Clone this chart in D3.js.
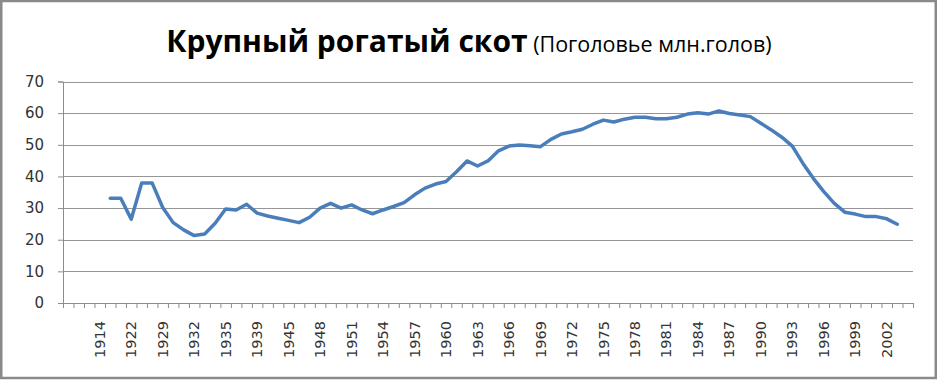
<!DOCTYPE html>
<html>
<head>
<meta charset="utf-8">
<script src="https://cdn.jsdelivr.net/npm/d3@7"></script>
<style>
  body { margin: 0; background: #fff; }
  svg { display: block; }
</style>
</head>
<body>
<svg id="chart" width="938" height="382"></svg>
<script>
// categories (rows of the sheet); every third one gets a label
const years = ["1908", "1910", "1912", "1914", "1916", "1917", "1922", "1923", "1925",
  "1929", "1930", "1931", "1932", "1933", "1934", "1935", "1936", "1938", "1939",
  "1940", "1941"].concat(d3.range(1945, 2005).map(String));

// cattle, million head (null = empty cell)
const cattle = [null, null, null, null,
  33.1, 33.1, 26.5, 37.9, 37.9, 30.2, 25.4, 23.1, 21.3, 21.8,
  25.2, 29.7, 29.4, 31.2, 28.4, 27.5, 26.8, 26.1, 25.4, 27.1,
  30.0, 31.5, 30.0, 31.0, 29.4, 28.2, 29.4, 30.5, 31.7, 34.2,
  36.3, 37.6, 38.4, 41.5, 44.9, 43.3, 44.9, 48.1, 49.6, 49.9,
  49.7, 49.4, 51.7, 53.4, 54.1, 54.9, 56.5, 57.8, 57.2, 58.1,
  58.7, 58.7, 58.2, 58.2, 58.7, 59.7, 60.1, 59.7, 60.7, 59.9,
  59.4, 58.9, 56.8, 54.7, 52.4, 49.6, 44.2, 39.4, 35.2, 31.5,
  28.7, 28.1, 27.3, 27.3, 26.6, 24.9, null];

const yTicks = [0, 10, 20, 30, 40, 50, 60, 70];
const labelYears = years.filter((d, i) => i >= 3 && i % 3 === 0);

const titleMain = "Крупный рогатый скот";
const titleSub = "(Поголовье млн.голов)";

const svg = d3.select("#chart");
const plot = { left: 63, right: 913, top: 81.5, bottom: 303 };

// outer frame
svg.append("rect")
  .attr("x", 1.25).attr("y", 1).attr("width", 934.5).attr("height", 377)
  .attr("fill", "#fff").attr("stroke", "#8a8a8a").attr("stroke-width", 2.5);

// title
const title = svg.append("text")
  .attr("x", 469).attr("y", 52)
  .attr("text-anchor", "middle")
  .style("font-family", "'Open Sans', sans-serif");
title.append("tspan").text(titleMain)
  .style("font-size", "30px").style("font-weight", "bold");
title.append("tspan").text(" " + titleSub)
  .style("font-size", "21.5px");

const x = d3.scaleBand().domain(years).range([plot.left, plot.right]);
const xEdges = d3.scaleLinear().domain([0, years.length]).range([plot.left, plot.right]);
const y = d3.scaleLinear().domain([0, 70]).range([plot.bottom, plot.top]);

// gridlines
svg.append("g")
  .selectAll("line")
  .data(yTicks.filter(d => d > 0))
  .join("line")
  .attr("x1", plot.left).attr("x2", plot.right)
  .attr("y1", d => Math.round(y(d)) + 0.5).attr("y2", d => Math.round(y(d)) + 0.5)
  .attr("stroke", "#969696").attr("stroke-width", 1);

// y axis
const yAxis = svg.append("g")
  .attr("transform", `translate(${plot.left},0)`)
  .call(d3.axisLeft(y).tickValues(yTicks).tickSize(5).tickPadding(14));
yAxis.selectAll("text")
  .style("font-family", "'DejaVu Sans', sans-serif").style("font-size", "15px")
  .attr("fill", "#333");

// x axis: tick marks at category edges
svg.append("g")
  .attr("transform", `translate(0,${plot.bottom})`)
  .call(d3.axisBottom(xEdges).tickValues(d3.range(years.length + 1))
    .tickSize(5).tickFormat(""));

// x axis: labels at category centres
const xLabelAxis = svg.append("g")
  .attr("transform", `translate(0,${plot.bottom})`)
  .call(d3.axisBottom(x).tickValues(labelYears).tickSize(0));
xLabelAxis.select(".domain").remove();
xLabelAxis.selectAll("text")
  .attr("transform", "rotate(-90)")
  .attr("x", -18).attr("y", 0).attr("dy", "0.35em")
  .style("text-anchor", "end")
  .style("font-family", "'DejaVu Sans', sans-serif").style("font-size", "14.5px")
  .attr("fill", "#333");

svg.selectAll(".domain, .tick line").attr("stroke", "#8c8c8c");

// the series
const line = d3.line()
  .defined(d => d != null)
  .x((d, i) => x(years[i]) + x.bandwidth() / 2)
  .y(d => y(d));

svg.append("path")
  .datum(cattle)
  .attr("fill", "none")
  .attr("stroke", "#4a7ebb")
  .attr("stroke-width", 3.5)
  .attr("stroke-linejoin", "round")
  .attr("stroke-linecap", "round")
  .attr("d", line);
</script>
</body>
</html>
